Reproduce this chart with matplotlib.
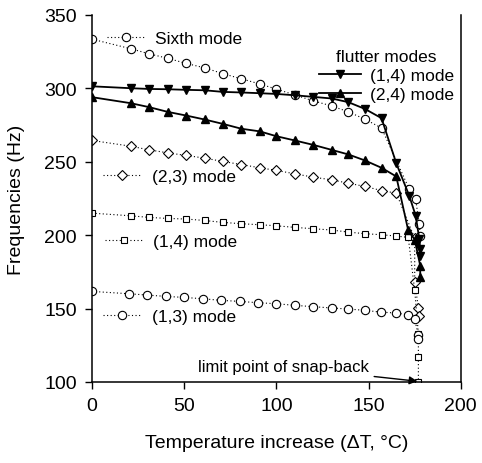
import numpy as np
import matplotlib.pyplot as plt
from matplotlib.lines import Line2D

plt.rcParams['font.family'] = ['Liberation Sans', 'DejaVu Sans']

# sixth mode (open circles, dotted)
sixth_x = [0, 21, 31, 41, 51, 61, 71, 81, 91, 100, 110, 120, 130, 139, 148, 157, 172, 175.5, 177.5, 178]
sixth_y = [333.5, 327, 323.5, 320.5, 317, 314, 310, 306.5, 303, 299.5, 295.5, 291.5, 288, 284, 279, 273, 231.5, 224.5, 207.5, 199.5]

# (2,3) mode (open diamonds, dotted)
m23_x = [0, 21, 31, 41, 51, 61, 71, 81, 91, 100, 110, 120, 130, 139, 148, 157, 165, 175, 175, 177, 177.5]
m23_y = [264.5, 260.6, 258.1, 256.1, 254.3, 252.5, 250.2, 248.1, 245.9, 244.1, 241.8, 239.5, 237.7, 235.4, 233.2, 230.4, 228.6, 198, 168, 150.5, 145]

# (1,4) mode (open squares, dotted)
m14_x = [0, 21, 31, 41, 51, 61, 71, 81, 91, 100, 110, 120, 130, 139, 148, 157, 165, 171.5, 175, 177, 177, 177]
m14_y = [215, 213.2, 212.1, 211.4, 211, 210, 208.7, 207.8, 207.1, 206.4, 205.3, 204.4, 203.5, 202.1, 201, 200.3, 199.4, 198.5, 162.4, 133, 117, 100]

# (1,3) mode (open circles, dotted)
m13_x = [0, 20, 30, 40, 50, 60, 70, 80, 90, 100, 110, 120, 130, 139, 148, 156.5, 164.6, 171.5, 175, 177, 177]
m13_y = [161.7, 160.1, 159.2, 158.3, 157.6, 156.7, 155.6, 154.9, 154, 153.3, 152.2, 151.3, 150.4, 149.7, 148.8, 147.6, 147, 145.8, 142.6, 132, 129]

# flutter (1,4) mode (filled down triangles, solid)
f14_x = [0, 21, 31, 41, 51, 61, 71, 81, 91, 100, 110, 120, 130, 139, 148, 157, 165, 172, 175.5, 177.5, 178, 178]
f14_y = [301.4, 300.1, 299.6, 299.4, 299, 298.7, 297.6, 297.2, 296.7, 296.2, 295.3, 294.2, 293.1, 290.6, 286, 279.7, 249, 227, 213.4, 197.5, 190.5, 186]

# flutter (2,4) mode (filled up triangles, solid)
f24_x = [0, 21, 31, 41, 51, 61, 71, 81, 91, 100, 110, 120, 130, 139, 148, 157, 165, 171.5, 175, 178, 178]
f24_y = [294, 289.9, 287.2, 284, 281.5, 278.8, 275.8, 272.5, 270.7, 267.4, 264.5, 261.5, 258.1, 255, 250.9, 245.9, 240, 203.2, 197, 179.2, 171.3]

x_ticks = [0, 50, 100, 150, 200]
y_ticks = [100, 150, 200, 250, 300, 350]

fig = plt.figure(figsize=(4.82, 4.64), dpi=100)
ax = fig.add_axes([0.191, 0.1746, 0.765, 0.791])

dot = (0, (1, 2.2))
kw_open = dict(color='black', linewidth=0.8, linestyle=dot, mfc='white', mec='black', mew=0.8)
l6, = ax.plot(sixth_x, sixth_y, marker='o', markersize=6, **kw_open)
l23, = ax.plot(m23_x, m23_y, marker='D', markersize=5, **kw_open)
l14, = ax.plot(m14_x, m14_y, marker='s', markersize=5, **kw_open)
l13, = ax.plot(m13_x, m13_y, marker='o', markersize=6, **kw_open)
f1, = ax.plot(f14_x, f14_y, color='black', linewidth=1.3, marker='v', markersize=5.5)
f2, = ax.plot(f24_x, f24_y, color='black', linewidth=1.3, marker='^', markersize=5.5)

ax.set_xlim(0, 200)
ax.set_ylim(100, 350)
ax.set_xticks(x_ticks)
ax.set_yticks(y_ticks)
ax.tick_params(direction='out', length=5, width=1, labelsize=14, pad=6)
ax.spines['top'].set_visible(False)
for s in ['left', 'bottom', 'right']:
    ax.spines[s].set_linewidth(1.1)

ax.set_xlabel('Temperature increase (\u0394T, \u00b0C)', fontsize=14, labelpad=14)
ax.set_ylabel('Frequencies (Hz)', fontsize=14, labelpad=14)

# inline mode labels
def mode_label(handle, text, y_frac, x_frac=0.005):
    leg = ax.legend([handle], [text], loc='center left', bbox_to_anchor=(x_frac, y_frac),
                    frameon=False, fontsize=12.5, handlelength=2.2, handletextpad=0.6,
                    numpoints=1, borderaxespad=0, borderpad=0.2)
    ax.add_artist(leg)

mode_label(l6, 'Sixth mode', 0.935, 0.03)
mode_label(l23, '(2,3) mode', 0.56, 0.02)
mode_label(l14, '(1,4) mode', 0.383, 0.025)
mode_label(l13, '(1,3) mode', 0.178, 0.02)

fl = ax.legend([f1, f2], ['(1,4) mode', '(2,4) mode'], title='flutter modes',
               loc='upper right', bbox_to_anchor=(1.0, 0.925), frameon=False,
               fontsize=12.5, title_fontsize=12.5, handlelength=2.4, handletextpad=0.5,
               numpoints=1, borderaxespad=0, labelspacing=0.2)

ax.annotate('limit point of snap-back', xy=(176.5, 100.5), xytext=(150, 110.5),
            fontsize=12, ha='right', va='center',
            arrowprops=dict(arrowstyle='-|>', color='black', lw=1, shrinkA=2, shrinkB=0,
                            mutation_scale=12))

fig.savefig('out.png', dpi=100)
